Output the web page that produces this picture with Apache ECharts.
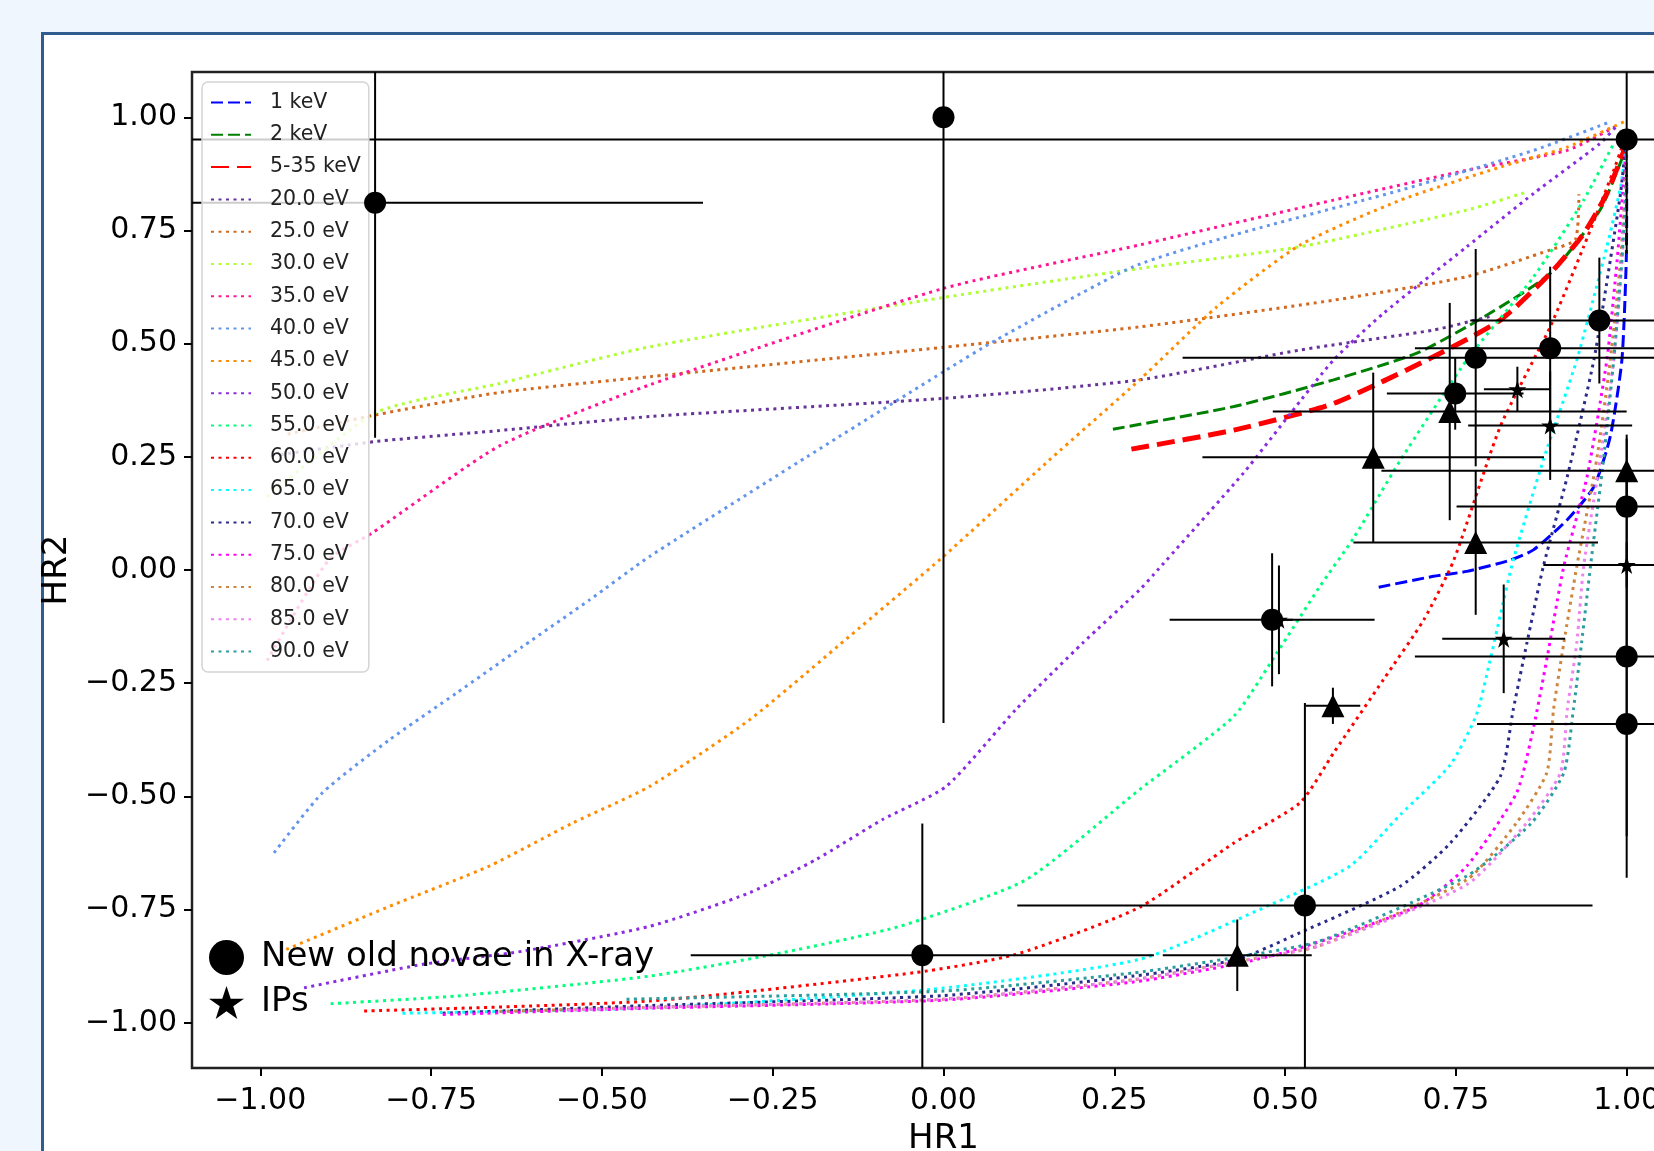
<!DOCTYPE html>
<html>
<head>
<meta charset="utf-8">
<script src="https://cdn.jsdelivr.net/npm/echarts@6/dist/echarts.min.js"></script>
<style>
  html, body { margin: 0; padding: 0; overflow: hidden; background: #eff6fd; }
  #panel { position: absolute; left: 41px; top: 32px; width: 1800px; height: 1300px;
           background: #fff; border: 3px solid #305c90; }
  #chart { position: absolute; left: 0; top: 0; width: 1760px; height: 1151px; }
</style>
</head>
<body>
<div id="panel"></div>
<div id="chart"></div>
<script>
// axis ticks
const ticks = [-1, -0.75, -0.5, -0.25, 0, 0.25, 0.5, 0.75, 1];

// model curves, [HR1, HR2]
const kev1 = [[0.637, -0.038], [0.717, -0.014], [0.766, -0.003], [0.83, 0.022], [0.864, 0.045], [0.913, 0.111],
  [0.952, 0.184], [0.976, 0.295], [0.993, 0.464], [0.9995, 0.692], [1.0, 0.85], [0.998, 0.94]];
const kev2 = [[0.248, 0.311], [0.425, 0.361], [0.571, 0.42], [0.693, 0.479], [0.791, 0.559], [0.888, 0.655],
  [0.961, 0.795], [0.996, 0.92]];
const kev535 = [[0.275, 0.267], [0.425, 0.309], [0.571, 0.368], [0.717, 0.471], [0.815, 0.552], [0.888, 0.655],
  [0.937, 0.743], [0.971, 0.832], [0.998, 0.934]];
const ev20 = [[-0.97, 0.255], [-0.83, 0.284], [-0.65, 0.308], [-0.43, 0.339], [0.0, 0.379], [0.287, 0.42],
  [0.522, 0.486], [0.717, 0.53], [0.8, 0.56]];
const ev25 = [[-0.96, 0.3], [-0.83, 0.343], [-0.65, 0.392], [-0.43, 0.427], [0.0, 0.492], [0.287, 0.537],
  [0.571, 0.596], [0.766, 0.648], [0.888, 0.707], [0.925, 0.73], [0.93, 0.83]];
const ev30 = [[-0.99, 0.162], [-0.83, 0.348], [-0.65, 0.412], [-0.43, 0.493], [0.0, 0.602], [0.287, 0.666],
  [0.522, 0.714], [0.766, 0.795], [0.854, 0.835]];
const ev35 = [[-0.99, -0.2], [-0.9, 0.022], [-0.836, 0.082], [-0.65, 0.274], [-0.43, 0.409], [0.0, 0.622],
  [0.287, 0.718], [0.571, 0.817], [0.766, 0.883], [0.913, 0.927], [0.983, 0.979]];
const ev40 = [[-0.98, -0.625], [-0.909, -0.492], [-0.811, -0.375], [-0.713, -0.272], [-0.616, -0.169],
  [-0.518, -0.066], [-0.43, 0.03], [-0.2, 0.25], [0.0, 0.438], [0.077, 0.508], [0.278, 0.67], [0.425, 0.74],
  [0.669, 0.839], [0.864, 0.927], [0.976, 0.99]];
const ev45 = [[-0.962, -0.838], [-0.811, -0.743], [-0.665, -0.654], [-0.543, -0.559], [-0.43, -0.478],
  [-0.284, -0.331], [-0.138, -0.147], [0.0, 0.03], [0.155, 0.243], [0.287, 0.42], [0.4, 0.581], [0.522, 0.718],
  [0.669, 0.817], [0.815, 0.89], [0.913, 0.934], [0.996, 0.99]];
const ev50 = [[-0.936, -0.923], [-0.762, -0.871], [-0.616, -0.842], [-0.43, -0.787], [-0.284, -0.713],
  [-0.186, -0.639], [-0.089, -0.551], [0.004, -0.478], [0.106, -0.308], [0.204, -0.161], [0.287, -0.044],
  [0.307, -0.011], [0.439, 0.214], [0.508, 0.346], [0.571, 0.464], [0.644, 0.567], [0.766, 0.714],
  [0.864, 0.832], [0.961, 0.942], [0.986, 0.982]];
const ev55 = [[-0.897, -0.958], [-0.713, -0.941], [-0.43, -0.897], [-0.235, -0.845], [-0.064, -0.787],
  [0.121, -0.684], [0.287, -0.485], [0.425, -0.323], [0.488, -0.183], [0.551, -0.036], [0.6, 0.07],
  [0.669, 0.243], [0.766, 0.464], [0.864, 0.648], [0.937, 0.817], [0.981, 0.942]];
const ev60 = [[-0.848, -0.974], [-0.43, -0.952], [-0.04, -0.889], [0.106, -0.849], [0.287, -0.745],
  [0.425, -0.603], [0.522, -0.514], [0.571, -0.404], [0.644, -0.242], [0.703, -0.11], [0.747, 0.022],
  [0.815, 0.317], [0.888, 0.537], [0.937, 0.714], [0.981, 0.883], [0.993, 0.934]];
const ev65 = [[-0.792, -0.979], [-0.43, -0.967], [-0.016, -0.926], [0.287, -0.86], [0.473, -0.743],
  [0.595, -0.654], [0.669, -0.54], [0.742, -0.43], [0.78, -0.32], [0.8, -0.2], [0.815, -0.1], [0.834, 0.022],
  [0.878, 0.243], [0.927, 0.464], [0.971, 0.714], [0.991, 0.846], [0.998, 0.92]];
const ev70 = [[-0.733, -0.979], [-0.43, -0.962], [0.0, -0.94], [0.278, -0.897], [0.43, -0.86], [0.522, -0.801],
  [0.669, -0.698], [0.742, -0.603], [0.815, -0.456], [0.834, -0.308], [0.854, -0.161], [0.878, 0.008],
  [0.913, 0.206], [0.952, 0.464], [0.976, 0.684], [0.991, 0.832], [0.998, 0.93]];
const ev75 = [[-0.733, -0.982], [-0.43, -0.968], [0.0, -0.95], [0.278, -0.91], [0.43, -0.87], [0.522, -0.835],
  [0.693, -0.743], [0.766, -0.654], [0.839, -0.492], [0.864, -0.345], [0.883, -0.198], [0.908, 0.008],
  [0.942, 0.206], [0.971, 0.464], [0.986, 0.684], [0.995, 0.85], [1.0, 0.93]];
const ev80 = [[-0.65, -0.975], [-0.43, -0.966], [0.0, -0.948], [0.278, -0.905], [0.43, -0.865], [0.55, -0.83],
  [0.766, -0.684], [0.839, -0.558], [0.883, -0.448], [0.893, -0.308], [0.908, -0.161], [0.927, 0.008],
  [0.956, 0.243], [0.976, 0.464], [0.991, 0.684], [0.998, 0.85], [1.0, 0.93]];
const ev85 = [[-0.55, -0.972], [-0.43, -0.966], [0.0, -0.948], [0.278, -0.905], [0.43, -0.865], [0.55, -0.83],
  [0.766, -0.695], [0.854, -0.558], [0.903, -0.448], [0.913, -0.308], [0.927, -0.161], [0.937, 0.008],
  [0.961, 0.243], [0.981, 0.464], [0.993, 0.684], [0.999, 0.85], [1.0, 0.93]];
const ev90 = [[-0.464, -0.948], [0.0, -0.93], [0.278, -0.89], [0.43, -0.855], [0.55, -0.82], [0.766, -0.676],
  [0.86, -0.56], [0.908, -0.448], [0.922, -0.308], [0.934, -0.161], [0.947, 0.008], [0.966, 0.243],
  [0.981, 0.464], [0.993, 0.684], [0.999, 0.85], [1.0, 0.93]];

const curveNames = ['1 keV', '2 keV', '5-35 keV', '20.0 eV', '25.0 eV', '30.0 eV', '35.0 eV', '40.0 eV',
  '45.0 eV', '50.0 eV', '55.0 eV', '60.0 eV', '65.0 eV', '70.0 eV', '75.0 eV', '80.0 eV', '85.0 eV', '90.0 eV'];
const curveData = [kev1, kev2, kev535, ev20, ev25, ev30, ev35, ev40, ev45, ev50, ev55, ev60, ev65, ev70, ev75,
  ev80, ev85, ev90];

// new old novae (circles)
const novaX    = [-0.832, 0.0, 1.0, 0.96, 0.888, 0.779, 0.749, 1.0, 1.0, 1.0, 0.481, 0.529, -0.031];
const novaY    = [0.811, 1.0, 0.951, 0.551, 0.49, 0.469, 0.39, 0.14, -0.191, -0.34, -0.11, -0.741, -0.851];
const novaXErr = [0.48, 0, 2.2, 0.189, 0.198, 0.429, 0.1, 0.249, 0.31, 0.219, 0.15, 0.421, 0.339];
const novaYErr = [0.519, 1.338, 0.252, 0.139, 0.18, 0.24, 0.08, 0.15, 0.397, 0.34, 0.147, 0.447, 0.291];

// IPs (stars)
const ipX    = [0.84, 0.888, 1.0, 0.82, 0.491];
const ipY    = [0.399, 0.319, 0.011, -0.152, -0.11];
const ipXErr = [0.049, 0.12, 0.122, 0.09, 0.02];
const ipYErr = [0.05, 0.12, 0.05, 0.12, 0.12];

// other sources (triangles)
const triX    = [0.741, 0.629, 0.779, 1.0, 0.57, 0.43];
const triY    = [0.35, 0.249, 0.061, 0.219, -0.3, -0.851];
const triXErr = [0.259, 0.25, 0.179, 0.359, 0.04, 0.109];
const triYErr = [0.24, 0.187, 0.16, 0.08, 0.04, 0.079];

const FONT = 'DejaVu Sans';
const RANGE = [-1.1, 1.1];
const STAR = 'path://M50,0 L61.8,35.1 L98.9,35.1 L68.9,56.7 L80.2,91.8 L50,70.1 L19.8,91.8 L31.1,56.7 L1.1,35.1 L38.2,35.1 Z';

const curveStyles = [
  { color: '#0000ff', width: 3, type: [12, 5] },
  { color: '#008000', width: 3, type: [12, 5] },
  { color: '#ff0000', width: 5, type: [18, 8] },
  { color: '#663399' }, { color: '#d2691e' }, { color: '#adff2f' }, { color: '#ff1493' },
  { color: '#6495ed' }, { color: '#ff8c00' }, { color: '#8a2be2' }, { color: '#00ff7f' },
  { color: '#ff0000' }, { color: '#00ffff' }, { color: '#2a2a8a' }, { color: '#ff00ff' },
  { color: '#cd853f' }, { color: '#ee82ee' }, { color: '#2a9d9d' }
];

const zip = (xs, ys, exs, eys) => xs.map((x, i) => [x, ys[i], exs[i], eys[i]]);
const clamp = v => Math.max(RANGE[0], Math.min(RANGE[1], v));
const fmt = v => (v < 0 ? '\u2212' : '') + Math.abs(v).toFixed(2);

function renderErr(params, api) {
  const x = api.value(0), y = api.value(1), ex = api.value(2), ey = api.value(3);
  const style = { stroke: '#000', lineWidth: 2 };
  const children = [];
  if (ex > 0) {
    const a = api.coord([clamp(x - ex), y]), b = api.coord([clamp(x + ex), y]);
    children.push({ type: 'line', shape: { x1: a[0], y1: a[1], x2: b[0], y2: b[1] }, style });
  }
  if (ey > 0) {
    const a = api.coord([x, clamp(y - ey)]), b = api.coord([x, clamp(y + ey)]);
    children.push({ type: 'line', shape: { x1: a[0], y1: a[1], x2: b[0], y2: b[1] }, style });
  }
  return { type: 'group', children };
}

const errSeries = (name, data) => ({
  type: 'custom', name, data, renderItem: renderErr, z: 3, silent: true,
  encode: { x: 0, y: 1 }
});

const chart = echarts.init(document.getElementById('chart'));

const series = curveNames.map((name, i) => ({
  type: 'line',
  name,
  data: curveData[i],
  symbol: 'none',
  smooth: 0.2,
  silent: true,
  z: 2,
  itemStyle: { color: curveStyles[i].color },
  lineStyle: {
    color: curveStyles[i].color,
    width: curveStyles[i].width || 3,
    type: curveStyles[i].type || [3, 4.5]
  }
}));

const markerStyle = { color: '#000', opacity: 1 };

series.push(
  errSeries('novaErr', zip(novaX, novaY, novaXErr, novaYErr)),
  errSeries('ipErr', zip(ipX, ipY, ipXErr, ipYErr)),
  errSeries('triErr', zip(triX, triY, triXErr, triYErr)),
  {
    type: 'scatter', name: 'New old novae in X-ray', z: 4, symbol: 'circle', symbolSize: 22,
    itemStyle: markerStyle, data: novaX.map((x, i) => [x, novaY[i]])
  },
  {
    type: 'scatter', name: 'IPs', z: 4, symbol: STAR, symbolSize: 18,
    itemStyle: markerStyle, data: ipX.map((x, i) => [x, ipY[i]])
  },
  {
    type: 'scatter', name: 'tri', z: 4, symbol: 'triangle', symbolSize: 23,
    itemStyle: markerStyle, data: triX.map((x, i) => [x, triY[i]])
  }
);

const axisCommon = {
  type: 'value',
  min: RANGE[0],
  max: RANGE[1],
  nameLocation: 'middle',
  nameTextStyle: { fontSize: 34, fontFamily: FONT, color: '#000' },
  axisLine: { show: false, onZero: false },
  splitLine: { show: false },
  axisTick: { show: true, customValues: ticks, length: 8, lineStyle: { color: '#000', width: 2 } },
  axisLabel: { customValues: ticks, formatter: fmt, fontSize: 30, fontFamily: FONT, color: '#000' }
};

chart.setOption({
  animation: false,
  grid: {
    left: 192, top: 72, width: 1503, height: 996,
    outerBoundsMode: 'none',
    containLabel: false,
    show: true, borderColor: '#222', borderWidth: 2.5, backgroundColor: 'transparent'
  },
  xAxis: Object.assign({}, axisCommon, {
    name: 'HR1', nameGap: 54,
    axisLabel: Object.assign({}, axisCommon.axisLabel, { margin: 18 })
  }),
  yAxis: Object.assign({}, axisCommon, {
    name: 'HR2', nameGap: 115,
    axisLabel: Object.assign({}, axisCommon.axisLabel, { margin: 15, padding: [4, 0, 0, 0] })
  }),
  legend: [
    {
      data: curveNames,
      orient: 'vertical',
      left: 202, top: 82,
      padding: [10, 8, 10, 8],
      itemWidth: 40, itemHeight: 14, itemGap: 11.3,
      backgroundColor: 'rgba(255,255,255,0.8)',
      borderColor: '#d4d4d4', borderWidth: 1.5, borderRadius: 6,
      selectedMode: false,
      itemStyle: { opacity: 0 },
      textStyle: { fontSize: 20.5, fontFamily: FONT, color: '#222', lineHeight: 20, padding: [0, 0, 0, 14] }
    },
    {
      data: [{ name: 'New old novae in X-ray', icon: 'circle' }, { name: 'IPs', icon: STAR }],
      orient: 'vertical',
      left: 209, top: 940,
      padding: 0,
      itemWidth: 35, itemHeight: 35, itemGap: 10,
      selectedMode: false,
      itemStyle: { color: '#000', opacity: 1 },
      textStyle: { fontSize: 34, fontFamily: FONT, color: '#000', lineHeight: 35, padding: [0, 0, 0, 12] }
    }
  ],
  series
});
</script>
</body>
</html>
